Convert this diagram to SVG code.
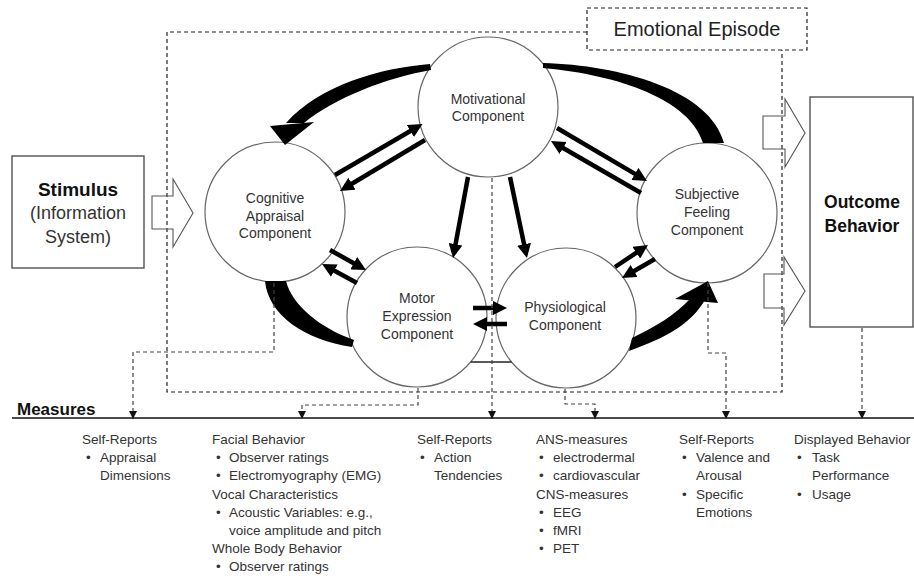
<svg xmlns="http://www.w3.org/2000/svg" width="914" height="576" viewBox="0 0 914 576">
<style>
text{font-family:"Liberation Sans",Arial,sans-serif;fill:#333}
.comp{font-size:14px;text-anchor:middle}
.circ{fill:#fff;stroke:#666;stroke-width:1.2}
.box{fill:#fff;stroke:#444;stroke-width:1.3}
.hollow{fill:none;stroke:#555;stroke-width:1.1;stroke-linejoin:miter}
.epi{fill:none;stroke:#222;stroke-width:1.2;stroke-dasharray:4 3}
.meas{fill:none;stroke:#444;stroke-width:1.2;stroke-dasharray:4 3;marker-end:url(#dh)}
.thick{fill:none;stroke:#000;stroke-width:4.5;marker-end:url(#ah)}
.blk{fill:#000}
.m{font-size:13.5px}
.h{font-weight:bold;fill:#111}
</style>
<defs>
<marker id="ah" viewBox="0 0 14 14" refX="3" refY="7" markerWidth="14" markerHeight="14" markerUnits="userSpaceOnUse" orient="auto">
<path d="M0,0 L14,7 L0,14 Z" fill="#000"/>
</marker>
<marker id="dh" viewBox="0 0 8 8" refX="8" refY="4" markerWidth="8" markerHeight="8" markerUnits="userSpaceOnUse" orient="auto">
<path d="M0,0 L8,4 L0,8 Z" fill="#111"/>
</marker>
</defs>
<rect width="914" height="576" fill="#fff"/>

<g id="emotional-episode">
<path class="epi" d="M587 32 H167 V392 H782 V50"/>
<rect class="epi" x="587" y="8" width="220" height="42"/>
<text x="697" y="36" style="font-size:20px;text-anchor:middle;fill:#222">Emotional Episode</text>
</g>

<g id="stimulus">
<rect class="box" x="12" y="156" width="132" height="112"/>
<text x="78" y="196" class="h" style="font-size:19px;text-anchor:middle">Stimulus</text>
<text x="78" y="219" style="font-size:18px;text-anchor:middle">(Information</text>
<text x="78" y="243" style="font-size:18px;text-anchor:middle">System)</text>
</g>

<g id="outcome">
<rect class="box" x="810" y="97" width="103" height="230"/>
<text x="862" y="208" class="h" style="font-size:17.5px;text-anchor:middle">Outcome</text>
<text x="862" y="232" class="h" style="font-size:17.5px;text-anchor:middle">Behavior</text>
</g>

<g id="motivational">
<circle class="circ" cx="488" cy="107" r="70"/>
<text class="comp" x="488" y="104">Motivational</text>
<text class="comp" x="488" y="121">Component</text>
</g>
<g id="cognitive">
<circle class="circ" cx="275" cy="212" r="70"/>
<text class="comp" x="275" y="203">Cognitive</text>
<text class="comp" x="275" y="221">Appraisal</text>
<text class="comp" x="275" y="238">Component</text>
</g>
<g id="motor">
<circle class="circ" cx="417" cy="317" r="70"/>
<text class="comp" x="417" y="303">Motor</text>
<text class="comp" x="417" y="321">Expression</text>
<text class="comp" x="417" y="339">Component</text>
</g>
<g id="physiological">
<circle class="circ" cx="566" cy="318" r="70"/>
<text class="comp" x="565" y="312">Physiological</text>
<text class="comp" x="565" y="330">Component</text>
</g>
<g id="subjective">
<circle class="circ" cx="707" cy="213" r="70"/>
<text class="comp" x="707" y="199">Subjective</text>
<text class="comp" x="707" y="217">Feeling</text>
<text class="comp" x="707" y="235">Component</text>
</g>

<g id="connectors">
<!-- hollow block arrows -->
<path class="hollow" d="M152,196 H173 V179 L193,213 L173,247 V229 H152 Z"/>
<path class="hollow" d="M763,116 H785 V99 L805,133 L785,167 V149 H763 Z"/>
<path class="hollow" d="M764,274 H784 V257 L805,291 L784,325 V308 H764 Z"/>
<!-- curved thick arrows -->
<path class="blk" d="M430 64 C380 68 320 85 286 123 L304 123 C335 98 385 78 431 70 Z"/>
<polygon class="blk" points="270,126 314,122 285,145"/>
<path class="blk" d="M543 63 C620 65 710 90 724 143 L703 143 C690 100 620 75 543 68 Z"/>
<path class="blk" d="M265 281 C268 315 305 340 352 347 L354 340 C320 328 292 305 286 281 Z"/>
<path class="blk" d="M629 351 C665 338 690 325 705 300 L690 299 C675 315 655 327 632 338 Z"/>
<polygon class="blk" points="675,299 708,281 718,303"/>
<!-- straight double arrows -->
<line class="thick" x1="335" y1="175" x2="413" y2="129.5"/>
<line class="thick" x1="425" y1="140" x2="349.4" y2="185.3"/>
<line class="thick" x1="557" y1="128" x2="637.5" y2="175.4"/>
<line class="thick" x1="641" y1="193" x2="560.5" y2="146.5"/>
<line class="thick" x1="330" y1="250" x2="356.4" y2="264.7"/>
<line class="thick" x1="357" y1="283" x2="331.7" y2="269.2"/>
<line class="thick" x1="473" y1="308" x2="496" y2="308"/>
<line class="thick" x1="507" y1="324" x2="484" y2="324"/>
<line class="thick" x1="615" y1="267" x2="638.8" y2="251.1"/>
<line class="thick" x1="655" y1="259" x2="631.5" y2="272.5"/>
<line class="thick" x1="468" y1="177" x2="455" y2="247.2"/>
<line class="thick" x1="510" y1="177" x2="524.7" y2="247.2"/>
<line x1="470.6" y1="362" x2="511.6" y2="362" stroke="#222" stroke-width="1.3"/>
<!-- measure connectors -->
<path class="meas" d="M274 283 V352 H133 V419"/>
<path class="meas" d="M418 388 V405 H302 V419"/>
<path class="meas" d="M492 178 V419"/>
<path class="meas" d="M565 389 V404 H595 V419"/>
<path class="meas" d="M708 283 V353 H726 V419"/>
<path class="meas" d="M862 328 V419"/>
</g>

<g id="measures">
<line x1="12" y1="418" x2="914" y2="418" stroke="#111" stroke-width="1.3"/>
<text x="17" y="415" class="h" style="font-size:17px">Measures</text>
<g class="m">
<text x="82" y="444">Self-Reports</text>
<text x="86" y="462">•</text><text x="100" y="462">Appraisal</text>
<text x="100" y="480">Dimensions</text>

<text x="212" y="444">Facial Behavior</text>
<text x="216" y="462">•</text><text x="229" y="462">Observer ratings</text>
<text x="216" y="480">•</text><text x="229" y="480">Electromyography (EMG)</text>
<text x="212" y="498.5">Vocal Characteristics</text>
<text x="216" y="516.5">•</text><text x="229" y="516.5">Acoustic Variables: e.g.,</text>
<text x="229" y="535">voice amplitude and pitch</text>
<text x="212" y="553">Whole Body Behavior</text>
<text x="216" y="571">•</text><text x="229" y="571">Observer ratings</text>

<text x="417" y="444">Self-Reports</text>
<text x="420" y="462">•</text><text x="434" y="462">Action</text>
<text x="434" y="480">Tendencies</text>

<text x="536" y="444">ANS-measures</text>
<text x="539" y="462">•</text><text x="553" y="462">electrodermal</text>
<text x="539" y="480">•</text><text x="553" y="480">cardiovascular</text>
<text x="536" y="498.5">CNS-measures</text>
<text x="539" y="516.5">•</text><text x="553" y="516.5">EEG</text>
<text x="539" y="535">•</text><text x="553" y="535">fMRI</text>
<text x="539" y="553">•</text><text x="553" y="553">PET</text>

<text x="679" y="444">Self-Reports</text>
<text x="682" y="462">•</text><text x="696" y="462">Valence and</text>
<text x="696" y="480">Arousal</text>
<text x="682" y="498.5">•</text><text x="696" y="498.5">Specific</text>
<text x="696" y="516.5">Emotions</text>

<text x="794" y="444">Displayed Behavior</text>
<text x="797" y="462">•</text><text x="812" y="462">Task</text>
<text x="812" y="480">Performance</text>
<text x="797" y="498.5">•</text><text x="812" y="498.5">Usage</text>
</g>
</g>
</svg>
